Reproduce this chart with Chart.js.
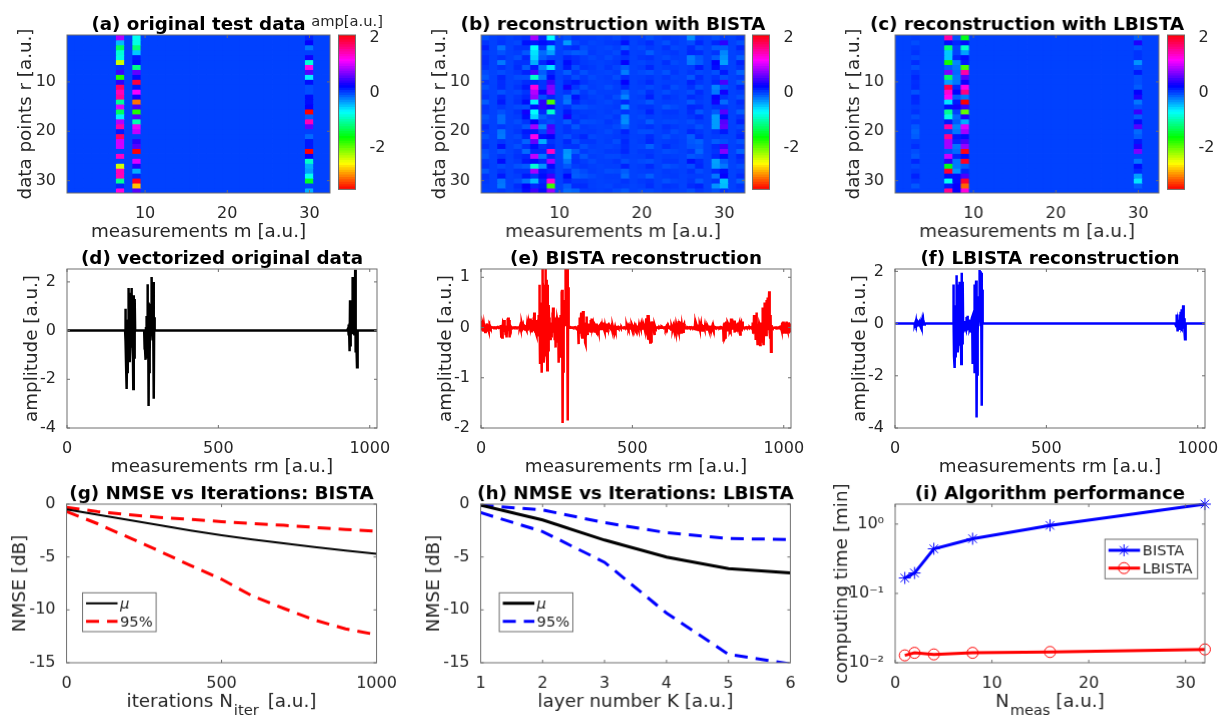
<!DOCTYPE html>
<html>
<head>
<meta charset="utf-8">
<title>BISTA vs LBISTA</title>
<script src="https://cdn.jsdelivr.net/npm/chart.js@4"></script>
<style>
  html, body { margin: 0; padding: 0; background: #fff; width: 1219px; height: 715px; overflow: hidden; }
  canvas { position: absolute; filter: blur(0.4px); }
</style>
</head>
<body>
<script>
// tick values
const matrixTicks = [10, 20, 30];
const vectorTicks = [0, 500, 1000];
const nmseTicks = [-15, -10, -5, 0];
const iterTicks = [0, 500, 1000];
const layerTicks = [1, 2, 3, 4, 5, 6];
const measTicks = [0, 10, 20, 30];
const timeTicks = [0.01, 0.1, 1];
const timeTickLabels = ['10⁻²', '10⁻¹', '10⁰'];
const ampBarTicks = [-2, 0, 2];

// (a) original data, only three columns are not zero
const originalCol7 = [0.9,-0.45,-1.3,-0.85,-0.8,-2.4,0.05,0.45,-1.75,0.4,1.75,1.45,1.55,-1.1,1.05,-1.3,-0.65,0.9,1.5,0.15,1.75,1.0,1.0,0,1.4,0,-2.4,1.45,1.45,-1.1,0.1,1.3];
const originalCol9 = [-0.75,-0.8,-1.2,-0.5,0.15,0.2,-1.15,0.6,0.2,1.9,0.15,1.15,0.3,-3.1,0.5,-1.75,0.55,-1.0,1.1,0.95,0,0.4,0.55,2.2,0,1.05,0.35,-0.4,0.1,2.0,-2.8,0.55];
const originalCol30 = [0.1,0.25,-0.2,0,0.3,-0.85,1.25,0.55,-0.65,0.2,-0.05,-0.05,0.2,0.2,0.25,2.2,-0.1,1.45,0.6,0,-0.15,0.15,0.15,2.5,0.25,-0.9,-0.4,-0.35,-0.75,-1.5,0,-0.4];

// (b) BISTA reconstruction, one array per measurement column
const bistaCol01 = [-0.05,0.05,0.13,0.03,0.07,0.08,0.05,-0.03,-0.08,0.04,-0.05,0.02,0.05,-0.09,0.05,0.03,-0.06,-0.02,0.08,0.03,-0.05,0.02,0.06,-0.04,-0.07,0.03,0.05,-0.08,0.05,0.03,0.01,0];
const bistaCol02 = [0.005,0,0,0,0.005,0,0,-0.005,0,0,0.005,0,0,0,0,0,-0.005,0,0,0,0.005,0,0,0,0,0,0.005,0,-0.005,0,0,0];
const bistaCol03 = [0.03,0.05,-0.18,-0.06,0.05,-0.2,0.06,-0.04,0.1,0.08,0.08,-0.06,0.1,0.15,0.04,-0.05,-0.15,-0.15,0.04,-0.18,-0.2,0.04,0.18,-0.06,0.05,0.2,-0.04,0.05,0.15,-0.18,-0.2,0.04];
const bistaCol04 = [0,0.005,0,0,-0.005,0,0,0.005,0,0,0,0,-0.005,0,0,0,0.005,0,0,0,0,-0.005,0,0,0.005,0,0,0,0,0.005,0,0];
const bistaCol05 = [0.03,-0.02,0.05,0.02,-0.05,0.06,0.08,0.04,-0.04,0.02,0.05,-0.02,0.04,0.06,-0.03,0.05,0.02,-0.04,0.02,0.04,-0.03,0.02,-0.05,0.04,0.06,0.03,-0.06,0.05,0.02,-0.04,0.08,0.04];
const bistaCol06 = [0.06,0.18,0.05,-0.08,0.1,0.06,-0.1,0.12,-0.05,0.08,0.15,0.05,0.1,0.2,-0.05,0.3,0.2,0.05,-0.08,0.15,0.1,-0.12,0.06,-0.15,0.1,0.15,-0.1,0.05,0.15,-0.18,0.25,0.2];
const bistaCol07 = [0.85,0.15,-0.7,-0.6,-0.55,-0.4,0.15,0.5,-0.9,0.1,1.3,0.9,0.8,-0.65,0.2,-0.7,-0.55,0.25,0.85,0.15,1.25,0.6,0.2,0.1,0.95,0.2,-0.85,0.85,0.05,-0.45,0.1,0.45];
const bistaCol08 = [0.1,0.2,0.05,-0.15,-0.1,0.1,-0.25,-0.1,-0.2,0.05,0.05,0.3,-0.05,0.4,0.4,0.1,-0.1,0,-0.25,0,0.2,-0.4,0.05,0.1,-0.2,0.1,-0.3,0.15,0.2,0.1,0.15,0.2];
const bistaCol09 = [-0.7,0.15,-0.5,-0.35,0,0.25,-0.6,0.1,0.2,0.45,0.7,0.75,0.1,-1.9,0.3,-0.9,0,-0.05,0.5,0.55,0.25,0.05,0.1,1.4,0.1,0.85,0.2,0.1,0.45,1.3,-1.85,0.8];
const bistaCol10 = [0,0.005,0,0,0,-0.005,0,0,0.005,0,0,0,0,-0.005,0,0,0,0.005,0,0,0,0,0.005,0,-0.005,0,0,0,0,0.005,0,0];
const bistaCol11 = [-0.05,-0.33,0.05,-0.05,0.1,0.2,0.15,-0.1,0.05,0.1,0.3,0.05,-0.15,-0.2,0.05,0.15,0.33,-0.1,0.05,0.05,-0.05,0.1,0.05,-0.3,-0.33,-0.2,-0.08,0.05,0.22,0.1,-0.1,-0.15];
const bistaCol12 = [0.04,-0.02,0.08,-0.1,0.06,0.08,-0.04,0.04,-0.04,0.15,0.04,-0.08,0.18,0.1,-0.06,0.04,0.02,0.06,-0.08,0.02,0.04,-0.04,0.06,-0.1,0.04,0.06,0.02,-0.08,-0.1,0.04,0.08,-0.12];
const bistaCol13 = [0.02,0.03,-0.04,-0.08,0.02,0.03,0.05,-0.05,0.03,0.05,-0.05,0.03,0.05,0.02,-0.05,0.02,0.04,-0.04,0.03,0.02,0.1,0.04,-0.05,0.03,-0.08,0.02,0.04,-0.03,-0.07,0.04,0.08,0.02];
const bistaCol14 = [0.02,-0.01,0.01,0.03,-0.02,0.01,0.03,0.01,-0.03,0.01,0.02,-0.03,0.01,0.03,-0.01,0.02,0.01,-0.03,0.01,0.03,-0.02,0.04,0.01,-0.01,0.02,-0.03,0.01,0.02,-0.03,0.01,0.01,0.02];
const bistaCol15 = [0,0.005,-0.005,0,0.01,0,-0.005,0,0.005,0,0,0.01,-0.005,0,0,0,0.005,-0.01,0,0.005,0,-0.005,0,0,0.005,0.01,-0.005,0,0.005,0,0,0.005];
const bistaCol16 = [0.01,0.03,-0.02,0.01,-0.03,0.02,0.04,-0.01,0.02,0.01,-0.04,0.01,0.03,-0.02,0.01,0.02,-0.01,0.04,0.01,-0.03,0.01,0.02,-0.01,0.03,-0.02,0.01,0.01,-0.04,0.02,0.01,-0.01,0.02];
const bistaCol17 = [-0.02,0.04,0.01,-0.03,0.02,0.04,-0.01,0.02,-0.04,0.03,0.01,0.02,-0.04,0.02,0.03,-0.01,0.04,0.01,-0.03,0.02,0.03,-0.04,0.01,0.03,-0.02,0.04,0.01,-0.03,0.02,0.01,0.03,-0.03];
const bistaCol18 = [0.05,0.18,-0.1,0.15,0.05,0.25,-0.1,-0.22,0.08,0.25,0.1,-0.12,-0.25,0.1,-0.3,0.05,-0.25,-0.28,-0.12,0.12,0.05,0.1,0.08,0.1,0.02,-0.05,0.12,-0.1,-0.15,0.05,0.02,-0.08];
const bistaCol19 = [0,-0.005,0,0.005,0,0,-0.005,0,0.005,0,0,-0.005,0,0,0.005,-0.005,0,0,0,0,0.005,-0.005,0,0,0.005,-0.005,0,0,0,0.005,-0.005,0];
const bistaCol20 = [0.01,0.03,-0.02,0.01,0.04,-0.01,0.02,-0.03,0.01,0.03,0.01,-0.03,0.02,-0.01,0.04,0.01,-0.02,0.01,0.03,-0.04,0.01,0.02,-0.01,0.03,0.01,-0.03,0.02,0.01,-0.02,0.03,0.01,-0.02];
const bistaCol21 = [-0.05,0.08,0.03,-0.1,0.06,0.02,0.1,-0.06,0.04,0.09,-0.03,0.07,0.13,-0.08,0.05,0.12,0.02,-0.1,0.06,-0.04,0.08,0.1,-0.12,0.03,0.06,-0.05,0.09,0.02,-0.11,0.05,0.07,-0.03];
const bistaCol22 = [0,0,0.005,-0.005,0,0,0,-0.005,0,0,0.005,0,-0.005,0,0,0.005,0,-0.005,0,0,0,0.005,-0.005,0,0,0,0.005,-0.005,0,0,0,0];
const bistaCol23 = [0.03,-0.05,0.06,0.02,-0.03,0.07,0.02,-0.06,0.04,0.01,0.05,-0.04,0.06,0.02,-0.07,0.04,0.02,-0.02,0.06,0.03,-0.05,0.02,0.07,-0.04,0.02,0.04,-0.06,0.03,0.02,-0.05,0.05,0.02];
const bistaCol24 = [0.01,0.03,-0.02,0.04,0.01,-0.03,0.02,0.04,-0.01,0.02,-0.04,0.01,0.03,0.01,-0.03,0.04,0.02,-0.02,0.03,-0.04,0.01,0.03,0.02,-0.02,0.01,0.04,-0.03,0.02,0.03,-0.01,0.04,0.01];
const bistaCol25 = [0,0,-0.005,0,0.005,0,0,-0.005,0,0.005,0,0,-0.005,0,0,0,0.005,-0.005,0,0,-0.005,0.005,0,0,0,-0.005,0,0.005,0,0,-0.005,0];
const bistaCol26 = [-0.28,-0.04,0.08,0.1,-0.22,-0.2,0.02,0.04,-0.08,0.12,0.06,-0.04,0.08,-0.08,0.1,0.08,0.04,-0.04,0.02,0.1,-0.1,-0.08,-0.06,0.04,-0.08,0.18,-0.04,0.06,0.02,0.04,0.08,-0.04];
const bistaCol27 = [0.02,0.1,-0.04,0.08,-0.08,-0.1,0.14,-0.02,0.08,0.04,-0.06,0.08,0.04,0.02,0.08,-0.08,0.1,0.02,-0.06,0.04,0.08,-0.12,-0.08,-0.14,-0.04,0.08,0.1,-0.04,0.02,-0.08,0.12,0.04];
const bistaCol28 = [0,0.005,0,-0.005,0,0,0.005,0,-0.005,0,0,0.005,0,-0.005,0,0,0,0.005,0,-0.005,0,0,0,0.005,-0.005,0,0,0.005,0,0,-0.005,0];
const bistaCol29 = [-0.05,0.1,-0.1,0.05,-0.1,0.25,0.2,-0.05,0.05,0.1,-0.25,-0.2,0.25,0.3,0.05,-0.1,-0.33,-0.33,-0.33,0.05,0.02,-0.1,0.08,0.05,0.1,-0.35,-0.33,0.1,-0.2,0.05,-0.3,-0.05];
const bistaCol30 = [0.02,0.4,-0.1,-0.25,-0.3,-0.35,0.02,0.15,-0.05,0.5,-0.05,0.3,0.05,-0.15,0.05,0.55,0.2,0.55,0.6,0.15,0,-0.05,0.45,0.72,0.2,-0.1,-0.2,0.2,0.25,-0.48,-0.45,0.05];
const bistaCol31 = [0,0.005,0,-0.005,0,0,0,-0.005,0,0.005,0,0,-0.005,0,0,0,-0.005,0,0.005,0,0,-0.005,0,0,0.005,0,-0.005,0,0,0.005,0,0];
const bistaCol32 = [0.05,-0.05,0.1,0.02,-0.1,0.12,0.05,-0.12,0.03,-0.08,0.1,0.02,-0.05,0.08,0.03,-0.1,0.05,0.12,-0.02,0.05,0.1,-0.06,0.03,-0.12,0.1,0.05,-0.04,0.02,0.08,-0.1,0.05,0.02];

// (c) LBISTA reconstruction
const lbistaCol3 = [0.02,-0.04,0.03,0.06,-0.03,0.08,-0.05,0.04,0.1,0.07,0.08,-0.06,0.1,0.09,0.02,0.06,-0.05,0.03,-0.08,-0.12,-0.1,0.02,0.07,-0.04,-0.08,0.1,-0.03,0.03,0.12,0.04,-0.08,0.02];
const lbistaCol7 = [1.5,0.2,-1.25,-0.5,-0.5,-1.7,-0.1,0.7,-1.3,-0.35,1.85,1.35,1.2,-0.6,0.2,-1.1,-0.8,0.15,1.5,0,1.6,0.85,0.85,-0.05,1.0,0.4,-1.55,1.95,0.2,-0.75,0.15,1.6];
const lbistaCol8 = [-0.05,0.1,0,0,0.1,-0.25,-0.2,-0.15,-0.2,-0.2,0.1,0.25,-0.1,0.15,0.3,0,-0.15,-0.1,-0.25,-0.2,0.15,0.1,-0.2,-0.15,0.1,-0.2,-0.2,-0.3,0.2,0.2,0.25,0.25];
const lbistaCol9 = [-1.55,0.2,-0.9,-0.35,0.2,0.15,-1.9,1.5,0.55,0.3,1.25,1.65,-0.2,-3.6,0.45,-2.0,0.35,-0.4,1.05,0.85,0.2,0.5,0.8,2.05,0.2,2.0,-0.1,0.1,0.5,1.95,-3.15,1.3];
const lbistaCol30 = [-0.1,0.35,-0.05,0.05,0.05,-0.3,-0.05,0.15,-0.05,-0.05,-0.1,0.25,0.35,-0.2,-0.05,0.45,-0.1,0.2,0.55,-0.15,-0.1,0.15,0.35,0.7,0,-0.2,0.2,0.1,-0.35,-0.6,-0.1,0];

// (g) NMSE vs iterations, BISTA
const iterX = [0,100,200,300,400,500,600,700,800,900,1000];
const bistaMean = [-0.5,-1.0,-1.5,-2.0,-2.5,-2.95,-3.35,-3.7,-4.05,-4.4,-4.7];
const bistaUpper = [-0.3,-0.7,-1.0,-1.25,-1.45,-1.65,-1.85,-2.0,-2.2,-2.4,-2.55];
const bistaLower = [-0.7,-1.85,-3.15,-4.45,-5.8,-7.1,-8.7,-9.85,-10.95,-11.8,-12.35];

// (h) NMSE vs layers, LBISTA
const layerX = [1,2,3,4,5,6];
const lbistaMean = [-0.1,-1.5,-3.4,-5.0,-6.1,-6.5];
const lbistaUpper = [-0.1,-0.55,-1.75,-2.7,-3.25,-3.35];
const lbistaLower = [-0.8,-2.6,-5.5,-10.3,-14.2,-15.1];

// (i) computing time
const measX = [1,2,4,8,16,32];
const bistaTime = [0.167,0.197,0.44,0.615,0.957,1.94];
const lbistaTime = [0.0128,0.0139,0.0132,0.0139,0.0143,0.0156];

const ampMin = -3.52, ampMax = 2.12;
const FONT = "'DejaVu Sans'";
const INK = '#262626';
const FRAME = '#6e6e6e';

Chart.defaults.font.family = FONT;
Chart.defaults.color = INK;
Chart.defaults.animation = false;

const zeros = () => new Array(32).fill(0);
const N = 32;

function sparseMatrix(cols) {
  const m = [];
  for (let i = 1; i <= N; i++) m.push(cols[i] || zeros());
  return m;
}

const originalMatrix = sparseMatrix({7: originalCol7, 9: originalCol9, 30: originalCol30});
const bistaMatrix = [bistaCol01,bistaCol02,bistaCol03,bistaCol04,bistaCol05,bistaCol06,bistaCol07,bistaCol08,
  bistaCol09,bistaCol10,bistaCol11,bistaCol12,bistaCol13,bistaCol14,bistaCol15,bistaCol16,
  bistaCol17,bistaCol18,bistaCol19,bistaCol20,bistaCol21,bistaCol22,bistaCol23,bistaCol24,
  bistaCol25,bistaCol26,bistaCol27,bistaCol28,bistaCol29,bistaCol30,bistaCol31,bistaCol32];
const lbistaMatrix = sparseMatrix({3: lbistaCol3, 7: lbistaCol7, 8: lbistaCol8, 9: lbistaCol9, 30: lbistaCol30});

// same colour scale as the colorbars, flipped hsv
function ampColor(v) {
  const h = Math.max(0, Math.min(360, 360 * (v - ampMin) / (ampMax - ampMin)));
  return 'hsl(' + h.toFixed(1) + ',100%,50%)';
}

// column by column, as in the vectorized panels
function vectorize(matrix) {
  const pts = [];
  matrix.forEach((col, m) => col.forEach((v, r) => pts.push({x: m * N + r + 1, y: v})));
  return pts;
}

const pairs = (xs, ys) => xs.map((x, i) => ({x: x, y: ys[i]}));

// box and inward ticks on all four sides
const frameTicks = {
  id: 'frameTicks',
  afterDatasetsDraw(chart, args, opts) {
    const {ctx, chartArea: a, scales} = chart;
    ctx.save();
    ctx.strokeStyle = FRAME;
    ctx.lineWidth = 1;
    ctx.strokeRect(a.left, a.top, a.width, a.height);
    if (!opts.noTicks) {
      ctx.beginPath();
      scales.x.ticks.forEach(t => {
        const p = scales.x.getPixelForValue(t.value);
        ctx.moveTo(p, a.bottom); ctx.lineTo(p, a.bottom - 3);
        ctx.moveTo(p, a.top); ctx.lineTo(p, a.top + 3);
      });
      scales.y.ticks.forEach(t => {
        const p = scales.y.getPixelForValue(t.value);
        ctx.moveTo(a.left, p); ctx.lineTo(a.left + 3, p);
        ctx.moveTo(a.right, p); ctx.lineTo(a.right - 3, p);
      });
      ctx.stroke();
    }
    ctx.restore();
  }
};

// the matlab style legend box inside the axes
const boxLegend = {
  id: 'boxLegend',
  afterDraw(chart, args, o) {
    if (!o.rows) return;
    const {ctx, chartArea: a} = chart;
    const x = a.left + o.x, y = a.top + o.y;
    ctx.save();
    ctx.fillStyle = '#fff';
    ctx.fillRect(x, y, o.w, o.h);
    ctx.strokeStyle = FRAME;
    ctx.lineWidth = 1;
    ctx.strokeRect(x, y, o.w, o.h);
    o.rows.forEach(row => {
      const ds = chart.data.datasets[row.dataset];
      const ry = y + row.y;
      ctx.strokeStyle = ds.borderColor;
      ctx.lineWidth = ds.borderWidth;
      ctx.setLineDash(ds.borderDash || []);
      ctx.beginPath();
      ctx.moveTo(x + 3.5, ry); ctx.lineTo(x + 35, ry);
      ctx.stroke();
      ctx.setLineDash([]);
      if (ds.pointRadius) {
        ctx.lineWidth = 1;
        ctx.fillStyle = 'rgba(0,0,0,0)';
        Chart.helpers.drawPoint(ctx, {pointStyle: ds.pointStyle, radius: ds.pointRadius, rotation: 0, borderWidth: 1}, x + 19, ry);
      }
      ctx.fillStyle = INK;
      ctx.font = (row.italic ? 'italic ' : '') + '14.7px ' + FONT;
      ctx.textBaseline = 'middle';
      ctx.fillText(ds.label, x + 37.5, ry + 1);
    });
    ctx.restore();
  }
};

// subscript inside an x axis label, the scale title leaves a gap for it
const subscript = {
  id: 'subscript',
  afterDraw(chart, args, o) {
    if (!o.text) return;
    const {ctx, chartArea: a, scales} = chart;
    const title = scales.x.options.title;
    ctx.save();
    ctx.font = title.font.size + 'px ' + FONT;
    const total = ctx.measureText(title.text).width;
    const before = ctx.measureText(o.before).width;
    const sx = (a.left + a.right) / 2 - total / 2 + before + 1;
    ctx.font = '14.7px ' + FONT;
    ctx.fillStyle = INK;
    ctx.textBaseline = 'middle';
    ctx.fillText(o.text, sx, a.bottom + 48);
    ctx.restore();
  }
};

Chart.register(frameTicks, boxLegend, subscript);

function addCanvas(left, top, w, h) {
  const c = document.createElement('canvas');
  c.width = w; c.height = h;
  c.style.left = left + 'px';
  c.style.top = top + 'px';
  c.style.width = w + 'px';
  c.style.height = h + 'px';
  document.body.appendChild(c);
  return c.getContext('2d');
}

const TOP = 22, BOTTOM = 49, EXTRA = 12;
const fixedTicks = vals => scale => { scale.ticks = vals.map(v => ({value: v})); };
// empty axis that keeps the canvas symmetric, so the title centres on the axes
const spacerAxis = (position, width) => ({
  axis: 'y', position: position, display: true,
  grid: {display: false}, border: {display: false}, ticks: {display: false},
  afterFit: s => { s.width = width; }
});

// plot = pixel rect of the axes, yGap = distance of the y label centre from the axes
function panel(plot, yGap, title, config) {
  const left = yGap + 10;
  const ctx = addCanvas(plot.x - left, plot.y - TOP, plot.w + 2 * left, plot.h + TOP + BOTTOM + EXTRA);
  const xs = config.x, ys = config.y;
  const axis = (s, fit) => Object.assign({
    grid: {display: false},
    border: {display: false},
    afterFit: fit,
    afterBuildTicks: fixedTicks(s.ticks),
    ticks: {
      padding: 3,
      autoSkip: false,
      maxRotation: 0,
      font: {size: 16},
      color: INK,
      callback: s.labels ? (v, i) => s.labels[i] : v => String(v)
    },
    title: {display: true, text: s.title, font: {size: 18.3, lineHeight: '20px'}, padding: 0, color: INK}
  }, s.opts);
  return new Chart(ctx, {
    type: config.type,
    data: {datasets: config.datasets},
    options: {
      responsive: false,
      layout: {padding: {left: 0, right: 0, top: 0, bottom: EXTRA}},
      scales: {
        x: axis(xs, s => { s.height = BOTTOM; }),
        y: axis(ys, s => { s.width = left; }),
        ySpacer: spacerAxis('right', left)
      },
      plugins: {
        legend: {display: false},
        tooltip: {enabled: false},
        title: {display: true, text: title, font: {size: 18.3, weight: 'bold', lineHeight: (TOP - 2) + 'px'}, padding: {top: 2, bottom: 0}, color: '#000'},
        boxLegend: config.legend || {},
        subscript: config.subscript || {}
      }
    }
  });
}

function heatmap(plot, title, matrix) {
  const rows = [];
  for (let r = 1; r <= N; r++) {
    rows.push({
      data: matrix.map((col, m) => ({x: m + 1, y: [r - 0.5, r + 0.5]})),
      backgroundColor: matrix.map(col => ampColor(col[r - 1])),
      borderWidth: 0,
      grouped: false,
      barPercentage: 1,
      categoryPercentage: 1,
      inflateAmount: 0.4
    });
  }
  panel(plot, 41, title, {
    type: 'bar',
    datasets: rows,
    x: {ticks: matrixTicks, title: 'measurements m [a.u.]', opts: {type: 'linear', min: 0.5, max: 32.5, offset: false}},
    y: {ticks: matrixTicks, title: 'data points r [a.u.]', opts: {type: 'linear', min: 0.5, max: 32.5, reverse: true}}
  });
}

function colorbar(x, y, h, label) {
  const half = 50, barW = 17, topPad = 26;
  const ctx = addCanvas(x + barW / 2 - half, y - topPad, half * 2, h + topPad + 12);
  const levels = [];
  for (let i = 0; i < 64; i++) {
    const lo = ampMin + (ampMax - ampMin) * i / 64, hi = ampMin + (ampMax - ampMin) * (i + 1) / 64;
    levels.push({
      data: [{x: 0, y: [lo, hi]}],
      backgroundColor: ampColor((lo + hi) / 2),
      borderWidth: 0, grouped: false, barPercentage: 1, categoryPercentage: 1, inflateAmount: 0.4
    });
  }
  new Chart(ctx, {
    type: 'bar',
    data: {datasets: levels},
    options: {
      responsive: false,
      layout: {padding: {left: 0, top: label ? 0 : topPad, bottom: 12}},
      scales: {
        x: {type: 'linear', display: false, min: -0.5, max: 0.5, offset: false},
        y: {
          position: 'right', min: ampMin, max: ampMax,
          grid: {display: false}, border: {display: false},
          afterFit: s => { s.width = half - barW / 2; },
          afterBuildTicks: fixedTicks(ampBarTicks),
          ticks: {padding: 6, font: {size: 16}, color: INK, callback: v => String(v)}
        },
        ySpacer: spacerAxis('left', half - barW / 2)
      },
      plugins: {
        legend: {display: false},
        tooltip: {enabled: false},
        frameTicks: {noTicks: true},
        title: {display: !!label, text: label, font: {size: 14.7, weight: 'normal', lineHeight: topPad + 'px'}, padding: 0, color: INK}
      }
    }
  });
}

function lineSet(label, data, color, width, extra) {
  return Object.assign({
    label: label, data: data, borderColor: color, backgroundColor: color,
    borderWidth: width, pointRadius: 0, tension: 0, fill: false
  }, extra || {});
}

const dashed = {borderDash: [13, 8]};

// top row
heatmap({x: 67, y: 35, w: 263, h: 158}, '(a) original test data', originalMatrix);
colorbar(338, 35, 158, 'amp[a.u.]');
heatmap({x: 481, y: 35, w: 263.5, h: 158}, '(b) reconstruction with BISTA', bistaMatrix);
colorbar(752.7, 35, 158);
heatmap({x: 895, y: 35, w: 263.5, h: 158}, '(c) reconstruction with LBISTA', lbistaMatrix);
colorbar(1167, 35, 158);

// middle row
function vectorPanel(plot, title, matrix, color, yMin, yMax, yTicks) {
  panel(plot, 35, title, {
    type: 'line',
    datasets: [lineSet(title, vectorize(matrix), color, 2.5)],
    x: {ticks: vectorTicks, title: 'measurements rm [a.u.]', opts: {type: 'linear', min: 0, max: 1024}},
    y: {ticks: yTicks, title: 'amplitude [a.u.]', opts: {type: 'linear', min: yMin, max: yMax}}
  });
}
vectorPanel({x: 66.7, y: 269.3, w: 310, h: 159}, '(d) vectorized original data', originalMatrix, '#000', -4, 2.53, [-4, -2, 0, 2]);
vectorPanel({x: 480.7, y: 269.3, w: 310, h: 159}, '(e) BISTA reconstruction', bistaMatrix, '#f00', -2, 1.165, [-2, -1, 0, 1]);
vectorPanel({x: 895, y: 269.3, w: 310, h: 159}, '(f) LBISTA reconstruction', lbistaMatrix, '#00f', -4, 2.09, [-4, -2, 0, 2]);

// bottom row
panel({x: 66.7, y: 504, w: 310, h: 158.7}, 46.5, '(g) NMSE vs Iterations: BISTA', {
  type: 'line',
  datasets: [
    lineSet('μ', pairs(iterX, bistaMean), '#000', 2),
    lineSet('95%', pairs(iterX, bistaUpper), '#f00', 3, dashed),
    lineSet('95% lower', pairs(iterX, bistaLower), '#f00', 3, dashed)
  ],
  x: {ticks: iterTicks, title: 'iterations N\u00a0\u00a0\u00a0\u00a0\u00a0\u00a0[a.u.]', opts: {type: 'linear', min: 0, max: 1000}},
  y: {ticks: nmseTicks, title: 'NMSE [dB]', opts: {type: 'linear', min: -15, max: 0}},
  legend: {x: 16, y: 88.3, w: 73.6, h: 38.7, rows: [{dataset: 0, y: 10.5, italic: true}, {dataset: 1, y: 28.5}]},
  subscript: {text: 'iter', before: 'iterations N'}
});
panel({x: 480.7, y: 504, w: 309.7, h: 158.7}, 46.5, '(h) NMSE vs Iterations: LBISTA', {
  type: 'line',
  datasets: [
    lineSet('μ', pairs(layerX, lbistaMean), '#000', 3),
    lineSet('95%', pairs(layerX, lbistaUpper), '#00f', 3, dashed),
    lineSet('95% lower', pairs(layerX, lbistaLower), '#00f', 3, dashed)
  ],
  x: {ticks: layerTicks, title: 'layer number K [a.u.]', opts: {type: 'linear', min: 1, max: 6}},
  y: {ticks: nmseTicks, title: 'NMSE [dB]', opts: {type: 'linear', min: -15, max: 0}},
  legend: {x: 18.6, y: 88.3, w: 73.4, h: 38.7, rows: [{dataset: 0, y: 10.5, italic: true}, {dataset: 1, y: 28.5}]}
});
panel({x: 895, y: 504, w: 309.7, h: 158.7}, 53, '(i) Algorithm performance', {
  type: 'line',
  datasets: [
    lineSet('BISTA', pairs(measX, bistaTime), '#00f', 3, {pointStyle: 'star', pointRadius: 6, pointBorderWidth: 1, pointBackgroundColor: 'rgba(0,0,0,0)', clip: false}),
    lineSet('LBISTA', pairs(measX, lbistaTime), '#f00', 3, {pointStyle: 'circle', pointRadius: 5.5, pointBorderWidth: 1, pointBackgroundColor: 'rgba(0,0,0,0)', clip: false})
  ],
  x: {ticks: measTicks, title: 'N\u00a0\u00a0\u00a0\u00a0\u00a0\u00a0\u00a0\u00a0[a.u.]', opts: {type: 'linear', min: 0, max: 32}},
  y: {ticks: timeTicks, labels: timeTickLabels, title: 'computing time [min]', opts: {type: 'logarithmic', min: 0.01, max: 1.94}},
  legend: {x: 209.3, y: 35, w: 92.4, h: 39.3, rows: [{dataset: 0, y: 11}, {dataset: 1, y: 28.7}]},
  subscript: {text: 'meas', before: 'N'}
});
</script>
</body>
</html>
